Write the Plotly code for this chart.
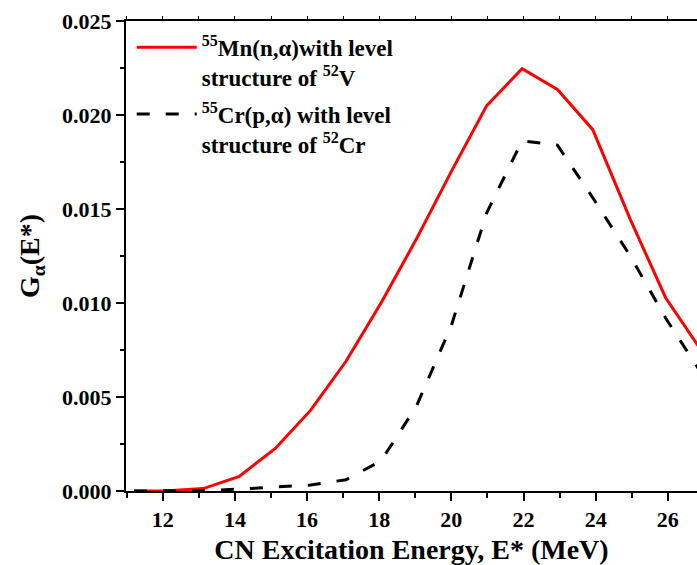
import plotly.graph_objects as go

# Data
energy_mn = [11.2, 12.15, 13.12, 14.12, 15.12, 16.1, 17.08, 18.05, 19.03, 20.0,
             20.98, 21.96, 22.94, 23.92, 24.96, 25.94, 26.92]
g_mn = [0.0, 0.00001, 0.00013, 0.00078, 0.00226, 0.0043, 0.0069, 0.0100, 0.0134, 0.0170,
        0.0205, 0.02246, 0.02136, 0.01922, 0.01445, 0.01028, 0.0075]

energy_cr = [11.2, 12.15, 13.12, 14.12, 15.12, 16.1, 17.08, 18.05, 19.03, 20.0,
             20.98, 21.96, 22.94, 23.92, 24.96, 25.94, 26.92]
g_cr = [0.0, 0.0, 0.00002, 0.0001, 0.0002, 0.00032, 0.0006, 0.0016, 0.0045, 0.0088,
        0.0148, 0.01862, 0.0184, 0.0156, 0.0125, 0.0092, 0.0063]

name_mn = "<sup>55</sup>Mn(n,α)with level<br>structure of <sup>52</sup>V"
name_cr = "<sup>55</sup>Cr(p,α) with level<br>structure of <sup>52</sup>Cr"

x_ticks = [12, 14, 16, 18, 20, 22, 24, 26]
y_ticks = [0.0, 0.005, 0.010, 0.015, 0.020, 0.025]

font_family = "Times New Roman, Liberation Serif, Times, serif"

fig = go.Figure()
fig.add_trace(go.Scatter(x=energy_mn, y=g_mn, mode="lines", name=name_mn, legendgroup="a",
                         line=dict(color="#ff0000", width=3)))
fig.add_trace(go.Scatter(x=energy_cr, y=g_cr, mode="lines", name=name_cr, legendgroup="b",
                         line=dict(color="#000000", width=3, dash="13px,16px")))
fig.add_trace(go.Scatter(x=[], y=[], xaxis="x2", showlegend=False, hoverinfo="skip"))

fig.update_layout(
    width=697, height=565,
    margin=dict(l=126, r=0, t=21, b=74, autoexpand=False),
    paper_bgcolor="white", plot_bgcolor="white",
    font=dict(family=font_family, color="black", weight="bold", size=22),
    showlegend=True,
    legend=dict(x=0.01, y=0.99, xanchor="left", yanchor="top", traceorder="grouped",
                bgcolor="rgba(0,0,0,0)", font=dict(size=23, family=font_family, weight="bold"),
                valign="top", itemwidth=60, tracegroupgap=4),
    xaxis=dict(range=[10.98, 26.81], tickvals=x_ticks, ticktext=[str(v) for v in x_ticks],
               ticks="outside", ticklen=8, tickwidth=2, tickcolor="black",
               showline=True, linewidth=2, linecolor="black",
               showgrid=False, zeroline=False,
               minor=dict(dtick=1, tick0=11, ticks="outside", ticklen=5, tickwidth=2,
                          tickcolor="black", showgrid=False),
               tickfont=dict(size=22, family=font_family, weight="bold"),
               title=dict(text="CN Excitation Energy, E* (MeV)", standoff=8,
                          font=dict(size=28, family=font_family, weight="bold"))),
    xaxis2=dict(overlaying="x", matches="x", side="top", range=[10.98, 26.81],
                tickvals=x_ticks, showticklabels=False,
                ticks="outside", ticklen=3, tickwidth=1, tickcolor="black",
                showline=True, linewidth=2, linecolor="black", showgrid=False, zeroline=False,
                minor=dict(dtick=1, tick0=11, ticks="outside", ticklen=3, tickwidth=1,
                           tickcolor="black", showgrid=False)),
    yaxis=dict(range=[0, 0.025], tickvals=y_ticks, ticktext=[f"{v:.3f}" for v in y_ticks],
               ticks="outside", ticklen=8, tickwidth=2, tickcolor="black",
               showline=True, linewidth=2, linecolor="black", showgrid=False, zeroline=False,
               minor=dict(dtick=0.0025, ticks="outside", ticklen=4, tickwidth=2,
                          tickcolor="black", showgrid=False),
               tickfont=dict(size=22, family=font_family, weight="bold"),
               title=dict(text="G<sub>α</sub>(E*)", standoff=14,
                          font=dict(size=28, family=font_family, weight="bold"))),
)

fig.write_html("out.html")
